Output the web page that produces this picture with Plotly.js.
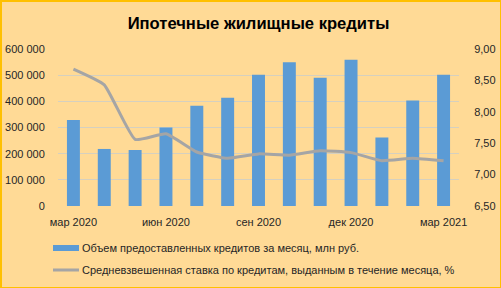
<!DOCTYPE html>
<html>
<head>
<meta charset="utf-8">
<script src="https://cdn.plot.ly/plotly-3.0.1.min.js"></script>
<style>
html,body{margin:0;padding:0;}
#chart{width:501px;height:288px;}
</style>
</head>
<body>
<div id="chart"></div>
<script>
var months = ["мар 2020","апр 2020","май 2020","июн 2020","июл 2020","авг 2020","сен 2020","окт 2020","ноя 2020","дек 2020","янв 2021","фев 2021","мар 2021"];
var volume = [329000, 218000, 214000, 300000, 383000, 414000, 502000, 549000, 490000, 559000, 262000, 403000, 502000];
var rate = [8.68, 8.43, 7.56, 7.65, 7.36, 7.26, 7.33, 7.31, 7.38, 7.35, 7.22, 7.26, 7.22];
var tickMonths = ["мар 2020","июн 2020","сен 2020","дек 2020","мар 2021"];
var seriesNames = ["Объем предоставленных кредитов за месяц, млн руб.", "Средневзвешенная ставка по кредитам, выданным в течение месяца, %"];
var titleText = "Ипотечные жилищные кредиты";

var font = "Liberation Sans, Arial, sans-serif";
var PT = 49, PH = 157, PL = 58, PW = 401;
function py(pix){ return (PT + PH - pix) / PH; }
function px(pix){ return (pix - PL) / PW; }

var traces = [
  {type:"bar", x:months, y:volume, name:seriesNames[0], marker:{color:"#5B9BD5"}, showlegend:false, hoverinfo:"skip"},
  {type:"scatter", mode:"lines", x:months, y:rate, name:seriesNames[1], yaxis:"y2",
   line:{color:"#A5A5A5", width:3, shape:"spline", smoothing:0.4}, showlegend:false, hoverinfo:"skip"}
];
var layout = {
  width:501, height:288,
  paper_bgcolor:"#FFDA96", plot_bgcolor:"rgba(0,0,0,0)",
  margin:{l:PL, r:501-PL-PW, t:PT, b:288-PT-PH},
  separators:", ",
  font:{family:font, size:11, color:"#262626"},
  bargap:0.58,
  title:{text:"<b>"+titleText+"</b>", font:{family:font, size:16.6, color:"#000"}, x:0.5, xref:"paper", y:0.92, yref:"container", yanchor:"middle"},
  xaxis:{type:"category", categoryorder:"array", categoryarray:months, tickmode:"array", tickvals:tickMonths, ticktext:tickMonths,
         showgrid:false, showline:false, ticks:"outside", ticklen:6, tickcolor:"rgba(0,0,0,0)", tickfont:{size:11}},
  yaxis:{range:[0,600000], dtick:100000, tickmode:"linear", tickformat:",d", showgrid:true, gridcolor:"#D5D0C0", gridwidth:1, zeroline:false,
         showline:false, ticks:"outside", ticklen:10, tickcolor:"rgba(0,0,0,0)", tickfont:{size:11}},
  yaxis2:{overlaying:"y", side:"right", range:[6.5,9], dtick:0.5, tickmode:"linear", tickformat:".2f", showgrid:false, zeroline:false,
         showline:false, ticks:"outside", ticklen:12, tickcolor:"rgba(0,0,0,0)", tickfont:{size:11}},
  shapes:[
    {type:"rect", xref:"paper", yref:"paper", x0:px(53), x1:px(79), y0:py(251), y1:py(245), line:{width:0}, fillcolor:"#5B9BD5"},
    {type:"line", xref:"paper", yref:"paper", x0:px(53), x1:px(79), y0:py(270), y1:py(270), line:{width:3, color:"#A5A5A5"}}
  ],
  annotations:[
    {xref:"paper", yref:"paper", x:px(80), y:py(248), xanchor:"left", yanchor:"middle", text:seriesNames[0], showarrow:false, font:{size:11, color:"#262626"}},
    {xref:"paper", yref:"paper", x:px(80), y:py(270), xanchor:"left", yanchor:"middle", text:seriesNames[1], showarrow:false, font:{size:11, color:"#262626"}}
  ]
};
Plotly.newPlot("chart", traces, layout, {staticPlot:true, displayModeBar:false});
</script>
<div style="position:absolute;left:0;top:0;width:501px;height:288px;box-sizing:border-box;border-left:2px solid #FFC000;border-top:2px solid #FFC000;border-right:1px solid #FFC000;border-bottom:1px solid #FFC000;pointer-events:none;"></div>
</body>
</html>
